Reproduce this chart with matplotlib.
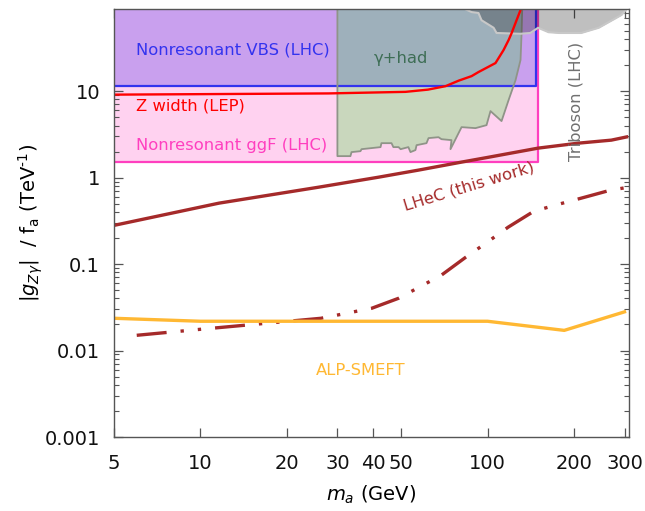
import matplotlib
matplotlib.use("Agg")
import matplotlib.pyplot as plt
from matplotlib.ticker import FixedLocator, FixedFormatter, NullLocator, LogLocator

plt.rcParams['font.family'] = ['DejaVu Sans']
plt.rcParams['mathtext.fontset'] = 'dejavusans'

# ---- axis ranges and ticks ----
x_range = (5, 311)
y_range = (0.001, 89)
x_ticks = [5, 10, 20, 30, 40, 50, 100, 200, 300]
x_tick_labels = ['5', '10', '20', '30', '40', '50', '100', '200', '300']
y_ticks = [0.001, 0.01, 0.1, 1, 10]
y_tick_labels = ['0.001', '0.01', '0.1', '1', '10']

# ---- excluded boxes (mass range, lower coupling bound) ----
ggf_mass = [5, 150]
ggf_floor = 1.5
vbs_mass = [5, 148]
vbs_floor = 11.4

# ---- gamma + hadrons exclusion contour ----
gh_mass = [30, 30, 33.3, 33.6, 36.1, 36.4, 42.4, 42.7, 46.3, 47.0, 49.0, 49.8,
           53.0, 53.9, 56.1, 56.6, 61.3, 62.3, 67.5, 69.1, 74.9, 74.3, 81.2,
           90.8, 99.2, 102.4, 111.9, 118.4, 125.2, 130.3, 131.4, 134.6]
gh_coupling = [1000, 1.77, 1.77, 1.97, 2.02, 2.13, 2.25, 2.50, 2.50, 2.25, 2.25,
               2.13, 2.25, 1.97, 2.08, 2.37, 2.50, 2.86, 2.93, 2.78, 2.71, 2.13,
               3.83, 3.73, 4.04, 5.87, 4.50, 7.87, 13.4, 22.9, 46.9, 1000]

# ---- triboson exclusion (lower edge) ----
tri_mass = [80, 88, 93, 95.3, 105, 107.5, 130, 141, 150, 163, 177, 212, 244,
            293, 305, 330]
tri_coupling = [95, 82, 80, 66, 54, 47, 46, 47, 54, 48, 47, 47, 54, 76, 89, 95]

# ---- Z width (LEP) ----
zw_mass = [5, 27.9, 51.8, 62.0, 71.4, 79.3, 88.0, 93.0, 106.6, 113.7, 118.4,
           121.2, 126.3, 130.3, 133]
zw_coupling = [9.1, 9.4, 9.8, 10.4, 11.4, 13.2, 14.9, 16.6, 21.1, 29.8, 38.9,
               46.5, 66.4, 86.6, 110]

# ---- LHeC projections ----
lhec_mass = [5, 11.6, 25.8, 41.7, 57.5, 81.2, 100, 150, 207, 270, 305]
lhec_coupling = [0.28, 0.506, 0.774, 1.01, 1.22, 1.51, 1.71, 2.19, 2.50, 2.71, 2.95]

lhec2_mass = [6, 10, 26.3, 39.5, 49, 69, 84, 100, 118, 145, 177, 212, 268, 300]
lhec2_coupling = [0.015, 0.0176, 0.0236, 0.0308, 0.0402, 0.0742, 0.120, 0.180,
                  0.267, 0.408, 0.492, 0.578, 0.715, 0.76]

# ---- ALP-SMEFT ----
smeft_mass = [5, 10, 100, 185, 300]
smeft_coupling = [0.0236, 0.0218, 0.0218, 0.0171, 0.028]

TOP = 1000

fig = plt.figure(figsize=(6.45, 5.11), dpi=100)
ax = fig.add_axes([114 / 645, 1 - 437 / 511, (629 - 114) / 645, (437 - 9) / 511])
ax.set_xscale('log')
ax.set_yscale('log')

pink_fill = '#ffd2f0'
pink_edge = '#ff3fbf'
purple_fill = '#c9a0ee'
blue_edge = '#3333ee'
brown = '#a52a2a'
orange = '#ffb833'

# filled regions
ax.fill_between(ggf_mass, ggf_floor, TOP, color=pink_fill, lw=0, zorder=1)
ax.fill_between(vbs_mass, vbs_floor, TOP, color=purple_fill, lw=0, zorder=2)
ax.fill(gh_mass, gh_coupling, facecolor=(0.0, 0.93, 0.0, 0.21),
        edgecolor='none', zorder=3)

# box borders
ax.plot([ggf_mass[0], ggf_mass[1], ggf_mass[1]], [ggf_floor, ggf_floor, TOP],
        color=pink_edge, lw=1.6, zorder=4)
ax.plot([vbs_mass[0], vbs_mass[1], vbs_mass[1]], [vbs_floor, vbs_floor, TOP],
        color=blue_edge, lw=1.6, zorder=4)
ax.plot(gh_mass, gh_coupling, color='#8f9488', lw=1.3, zorder=4)

# triboson region on top of the boxes
ax.fill_between(tri_mass, tri_coupling, TOP, color=(0, 0, 0, 0.25), lw=0, zorder=5)
ax.plot(tri_mass, tri_coupling, color='#c8c8c8', lw=1.5, zorder=5)

# curves
ax.plot(zw_mass, zw_coupling, color='red', lw=1.7, zorder=6)
ax.plot(lhec_mass, lhec_coupling, color=brown, lw=2.4, zorder=6)
ax.plot(lhec2_mass, lhec2_coupling, color=brown, lw=2.4, zorder=6,
        linestyle=(0, (9.0, 4.2, 1.0, 4.2, 1.0, 4.2)))
ax.plot(smeft_mass, smeft_coupling, color=orange, lw=2.4, zorder=6)

# labels inside the plot
fs = 11.8
ax.text(5.98, 29.8, 'Nonresonant VBS (LHC)', color=blue_edge, fontsize=fs,
        va='center', ha='left', zorder=7)
ax.text(5.98, 6.7, 'Z width (LEP)', color='red', fontsize=fs,
        va='center', ha='left', zorder=7)
ax.text(5.98, 2.37, 'Nonresonant ggF (LHC)', color=pink_edge, fontsize=fs,
        va='center', ha='left', zorder=7)
ax.text(49.8, 24.1, 'γ+had', color='#3e6e55', fontsize=fs,
        va='center', ha='center', zorder=7)
ax.text(204, 7.66, 'Triboson (LHC)', color='#707070', fontsize=fs,
        va='center', ha='center', rotation=90, zorder=7)
ax.text(85.9, 0.797, 'LHeC (this work)', color=brown, fontsize=fs,
        va='center', ha='center', rotation=17, rotation_mode='anchor', zorder=7)
ax.text(36.1, 0.0059, 'ALP-SMEFT', color=orange, fontsize=fs,
        va='center', ha='center', zorder=7)

ax.set_xlim(*x_range)
ax.set_ylim(*y_range)

ax.xaxis.set_major_locator(FixedLocator(x_ticks))
ax.xaxis.set_major_formatter(FixedFormatter(x_tick_labels))
ax.xaxis.set_minor_locator(NullLocator())
ax.yaxis.set_major_locator(FixedLocator(y_ticks))
ax.yaxis.set_major_formatter(FixedFormatter(y_tick_labels))
ax.yaxis.set_minor_locator(LogLocator(base=10, subs=range(2, 10), numticks=20))

spine_color = '#555555'
for s in ax.spines.values():
    s.set_color(spine_color)
    s.set_linewidth(1.0)
    s.set_zorder(8)
ax.tick_params(which='both', direction='in', top=True, right=True,
               color=spine_color, labelsize=14, labelcolor='#111111')
ax.tick_params(which='major', length=6.5, width=0.9)
ax.tick_params(which='minor', length=3.5, width=0.8)
ax.tick_params(axis='x', which='major', pad=12)
ax.tick_params(axis='y', which='major', pad=10)

ax.set_xlabel(r'$m_a$ (GeV)', fontsize=14, labelpad=8)
ax.set_ylabel(r'$|g_{Z\gamma}|$  / f$_{\mathrm{a}}$ (TeV$^{\text{-1}}$)',
              fontsize=14, labelpad=0)

fig.savefig('out.png', dpi=100)
